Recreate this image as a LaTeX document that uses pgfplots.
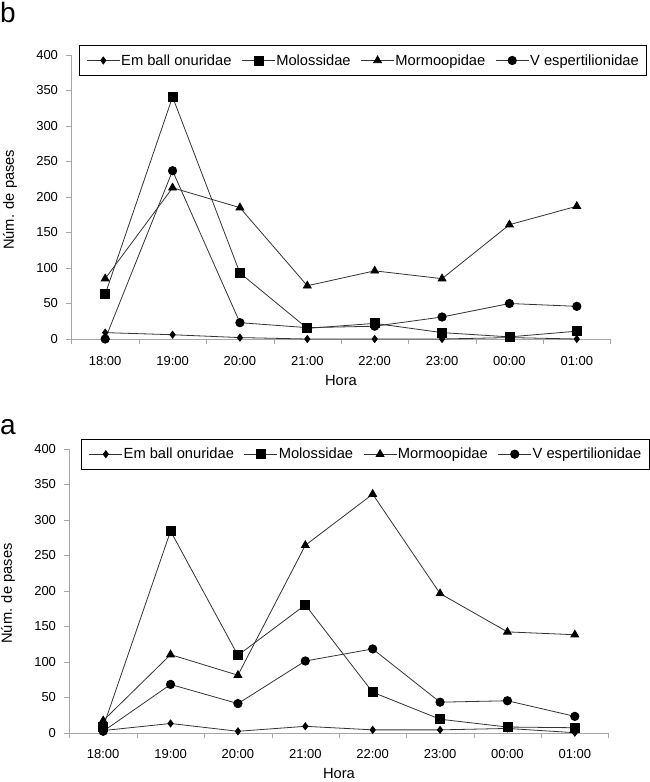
\documentclass[border=0pt]{standalone}
\usepackage{fontspec}
\setmainfont{Liberation Sans}
\usepackage{pgfplots}
\usepackage{pgfplotstable}
\pgfplotsset{compat=1.18}

\pgfplotstableread{
x emb mol mor ves
0 9 63 85 0
1 6 341 213 237
2 2 93 185 23
3 0 15 75 16
4 0 22 96 18
5 0 9 85 31
6 2 3 161 50
7 0 11 187 46
}\datab

\pgfplotstableread{
x emb mol mor ves
0 3 8 17 2
1 13 284 110 68
2 2 109 81 41
3 9 180 264 101
4 4 57 336 118
5 4 19 196 43
6 6 8 142 45
7 0 7 138 23
}\dataa

\pgfplotsset{
  panel/.style={
    scale only axis,
    width=539pt, height=284pt,
    xmin=-0.5, xmax=7.5, ymin=0, ymax=400,
    axis x line=bottom, axis y line=left,
    axis line style={draw=black!35, -},
    tick style={draw=black!35},
    tick align=outside,
    major tick length=5pt,
    ytick={0,50,...,400},
    xtick={-0.5,0.5,...,7.5},
    xticklabels={},
    extra x ticks={0,1,...,7},
    extra x tick labels={18:00,19:00,20:00,21:00,22:00,23:00,00:00,01:00},
    extra x tick style={major tick length=0pt},
    /pgf/number format/assume math mode=true,
    tick label style={font=\fontsize{13}{14}\selectfont},
    xticklabel style={anchor=base, yshift=-26pt},
    yticklabel style={xshift=-5pt},
    label style={font=\fontsize{14.7}{17}\selectfont},
    xlabel={Hora},
    ylabel={Núm. de pases},
    xlabel style={at={(axis description cs:0.5,0)}, anchor=base, yshift=-46pt},
    ylabel style={at={(axis description cs:-0.114,0.49)}, anchor=center},
    legend columns=4,
    legend cell align=left,
    legend image code/.code={\draw[mark repeat=2,mark phase=2,##1] plot coordinates {(0pt,0pt) (16.5pt,0pt) (33pt,0pt)};},
    legend style={
      font=\fontsize{14.7}{17}\selectfont,
      draw=black, line width=0.8pt,
      inner xsep=7pt, inner ysep=8pt,
      nodes={inner sep=1pt, line width=0.6pt},
      /tikz/every even column/.append style={column sep=9pt},
    },
  },
  ser/.style={black!80, line width=0.8pt, mark options={solid, fill=black, draw=black}},
}

\begin{document}
\begin{tikzpicture}
\useasboundingbox (0pt,0pt) rectangle (650pt,-782pt);

\node[anchor=base west, inner sep=0pt, font=\fontsize{28}{30}\selectfont] at (0pt,-22pt) {b};
\node[anchor=base west, inner sep=0pt, font=\fontsize{28}{30}\selectfont] at (0pt,-434pt) {a};

\begin{axis}[panel,
  at={(71.5pt,-339pt)}, anchor=south west,
  legend style={at={(axis description cs:0,1)}, anchor=north west, xshift=7.5pt, yshift=10pt},
]
\addplot[ser, mark=diamond*, mark size=3.5pt] table[x=x,y=emb]{\datab};
\addlegendentry{Em ball onuridae}
\addplot[ser, mark=square*, mark size=4.5pt] table[x=x,y=mol]{\datab};
\addlegendentry{Molossidae}
\addplot[ser, mark=triangle*, mark size=4.5pt] table[x=x,y=mor]{\datab};
\addlegendentry{Mormoopidae}
\addplot[ser, mark=*, mark size=4.2pt] table[x=x,y=ves]{\datab};
\addlegendentry{V espertilionidae}
\end{axis}

\begin{axis}[panel,
  at={(69.5pt,-732.7pt)}, anchor=south west,
  legend style={at={(axis description cs:0,1)}, anchor=north west, xshift=12pt, yshift=10pt},
]
\addplot[ser, mark=diamond*, mark size=3.5pt] table[x=x,y=emb]{\dataa};
\addlegendentry{Em ball onuridae}
\addplot[ser, mark=square*, mark size=4.5pt] table[x=x,y=mol]{\dataa};
\addlegendentry{Molossidae}
\addplot[ser, mark=triangle*, mark size=4.5pt] table[x=x,y=mor]{\dataa};
\addlegendentry{Mormoopidae}
\addplot[ser, mark=*, mark size=4.2pt] table[x=x,y=ves]{\dataa};
\addlegendentry{V espertilionidae}
\end{axis}
\end{tikzpicture}
\end{document}
